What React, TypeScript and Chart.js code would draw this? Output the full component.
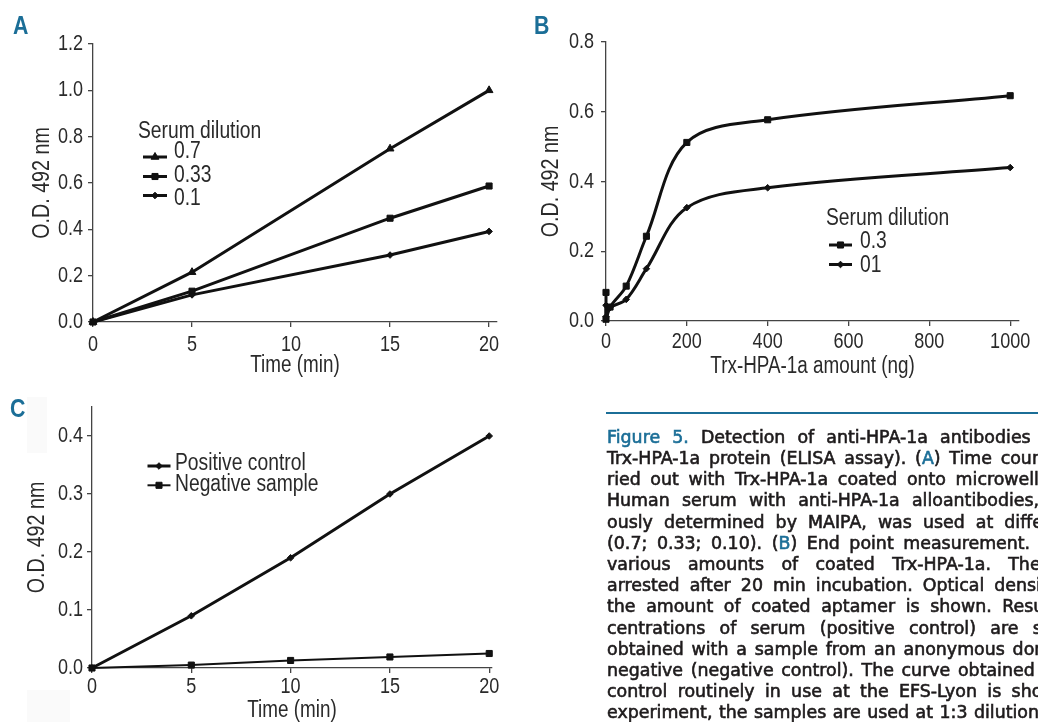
import React, { useEffect, useRef } from 'react';
import { Chart, registerables } from 'chart.js';
import { drawPoint } from 'chart.js/helpers';

Chart.register(...registerables);

const FONT = "'Liberation Sans', Arial, sans-serif";
const NARROW = 0.82;
const TEXT = '#2a2a2a';
const AXIS = '#444444';
const LINE = '#111111';
const BLUE = '#1b6e97';

// ---------- Panel A ----------
const aTime = [0, 5, 15, 20];
const aDil07 = [0, 0.215, 0.748, 1.0];
const aDil033 = [0, 0.133, 0.448, 0.587];
const aDil01 = [0, 0.117, 0.289, 0.391];
const aXTicks = [0, 5, 10, 15, 20];
const aYTicks = [0, 0.2, 0.4, 0.6, 0.8, 1.0, 1.2];

// ---------- Panel B ----------
const bAmount03 = [0, 0, 10, 50, 100, 200, 400, 1000];
const bDil03 = [0.082, 0.005, 0.04, 0.1, 0.243, 0.512, 0.577, 0.646];
const bAmount01 = [0, 0, 10, 50, 100, 200, 400, 1000];
const bDil01 = [0.045, 0.012, 0.038, 0.062, 0.15, 0.325, 0.382, 0.44];
const bXTicks = [0, 200, 400, 600, 800, 1000];
const bYTicks = [0, 0.2, 0.4, 0.6, 0.8];

// ---------- Panel C ----------
const cTime = [0, 5, 10, 15, 20];
const cPositive = [0, 0.09, 0.19, 0.3, 0.4];
const cNegative = [0, 0.005, 0.013, 0.019, 0.025];
const cXTicks = [0, 5, 10, 15, 20];
const cYTicks = [0, 0.1, 0.2, 0.3, 0.4];

// ---------- Caption ----------
const captionLines = [
  '[Figure] [5.] Detection of anti-HPA-1a antibodies',
  'Trx-HPA-1a protein (ELISA assay). ([A]) Time course',
  'ried out with Trx-HPA-1a coated onto microwell',
  'Human serum with anti-HPA-1a alloantibodies,',
  'ously determined by MAIPA, was used at different',
  '(0.7; 0.33; 0.10). ([B]) End point measurement.',
  'various amounts of coated Trx-HPA-1a. The',
  'arrested after 20 min incubation. Optical density',
  'the amount of coated aptamer is shown. Results',
  'centrations of serum (positive control) are shown',
  'obtained with a sample from an anonymous donor',
  'negative (negative control). The curve obtained',
  'control routinely in use at the EFS-Lyon is shown',
  'experiment, the samples are used at 1:3 dilution',
];
const captionLastWordX = [940, 1000.7, 955.7, 912, 1004.3, 903.3, 1008.3, 994.3, 1002.3, 1032.7, 1012.7, 958, 1011.7, 974];

type Row = { lineY: number; textY: number };
type LegendCfg = { title?: string; titleX: number; titleY: number; x0: number; x1: number; textX: number; rows: Row[]; fontSize: number };

function makeLegendPlugin(cfg: LegendCfg) {
  return {
    id: 'panelLegend',
    afterDatasetsDraw(chart: any) {
      const ctx = chart.ctx as CanvasRenderingContext2D;
      ctx.save();
      ctx.font = `${cfg.fontSize}px ${FONT}`;
      ctx.textBaseline = 'middle';
      ctx.textAlign = 'left';
      if (cfg.title) {
        ctx.fillStyle = TEXT;
        ctx.fillText(cfg.title, cfg.titleX, cfg.titleY);
      }
      cfg.rows.forEach((row, i) => {
        const ds = chart.data.datasets[i];
        ctx.strokeStyle = ds.borderColor;
        ctx.lineWidth = ds.borderWidth;
        ctx.beginPath();
        ctx.moveTo(cfg.x0, row.lineY);
        ctx.lineTo(cfg.x1, row.lineY);
        ctx.stroke();
        ctx.fillStyle = ds.pointBackgroundColor;
        ctx.strokeStyle = ds.pointBorderColor;
        ctx.lineWidth = 1;
        drawPoint(ctx, { pointStyle: ds.pointStyle, radius: ds.pointRadius, rotation: 0, borderWidth: 1 } as any, (cfg.x0 + cfg.x1) / 2, row.lineY);
        ctx.fillStyle = TEXT;
        ctx.fillText(ds.label, cfg.textX, row.textY);
      });
      ctx.restore();
    },
  };
}

// Render canvas text horizontally condensed (narrow sans look).
function condenseText(canvas: HTMLCanvasElement) {
  const ctx = canvas.getContext('2d') as any;
  if (ctx.__condensed) return;
  const orig = ctx.fillText.bind(ctx);
  ctx.fillText = (t: string, x: number, y: number, mw?: number) => {
    ctx.save();
    ctx.translate(x, y);
    ctx.scale(NARROW, 1);
    if (mw !== undefined) orig(t, 0, 0, mw / NARROW);
    else orig(t, 0, 0);
    ctx.restore();
  };
  ctx.__condensed = true;
}

function series(label: string, xs: number[], ys: number[], style: string, radius: number, width: number, tension = 0) {
  return {
    label,
    data: xs.map((x, i) => ({ x, y: ys[i] })),
    borderColor: LINE,
    backgroundColor: LINE,
    pointBackgroundColor: LINE,
    pointBorderColor: LINE,
    pointBorderWidth: 1,
    pointStyle: style,
    pointRadius: radius,
    borderWidth: width,
    tension,
    clip: 10,
  };
}

function xAxis(min: number, max: number, ticks: number[], height: number, pad: number, title: string, titlePadBottom: number) {
  return {
    type: 'linear',
    min,
    max,
    afterBuildTicks: (s: any) => { s.ticks = ticks.map((v) => ({ value: v })); },
    afterFit: (s: any) => { s.height = height; },
    grid: { display: true, drawOnChartArea: false, drawTicks: true, tickLength: 5, color: AXIS, lineWidth: 1.3 },
    border: { display: true, color: AXIS, width: 1.3 },
    ticks: { font: { family: FONT, size: 22 }, color: TEXT, padding: pad, maxRotation: 0, autoSkip: false, callback: (v: any) => String(v) },
    title: { display: true, text: title, font: { family: FONT, size: 23 }, color: TEXT, padding: { top: 0, bottom: titlePadBottom } },
  };
}

function yAxis(min: number, max: number, ticks: number[], width: number, pad: number) {
  return {
    type: 'linear',
    min,
    max,
    afterBuildTicks: (s: any) => { s.ticks = ticks.map((v) => ({ value: v })); },
    afterFit: (s: any) => { s.width = width; },
    grid: { display: true, drawOnChartArea: false, drawTicks: true, tickLength: 5, color: AXIS, lineWidth: 1.3 },
    border: { display: true, color: AXIS, width: 1.3 },
    ticks: { font: { family: FONT, size: 22 }, color: TEXT, padding: pad, autoSkip: false, callback: (v: any) => Number(v).toFixed(1) },
    title: { display: true, text: 'O.D. 492 nm', font: { family: FONT, size: 24 }, color: TEXT, padding: 0 },
  };
}

function baseOptions(padding: any, x: any, y: any) {
  return {
    responsive: false,
    animation: false,
    events: [],
    layout: { padding },
    plugins: { legend: { display: false }, tooltip: { enabled: false } },
    scales: { x, y },
  };
}

function buildA(canvas: HTMLCanvasElement) {
  condenseText(canvas);
  return new Chart(canvas, {
    type: 'line',
    data: {
      datasets: [
        series('0.7', aTime, aDil07, 'triangle', 4.5, 3),
        series('0.33', aTime, aDil033, 'rect', 4.3, 3),
        series('0.1', aTime, aDil01, 'rectRot', 3.3, 3),
      ] as any,
    },
    options: baseOptions(
      { left: 28, top: 44, right: 541, bottom: 722 - 322 - 57 },
      xAxis(0, 20.4, aXTicks, 57, 5, 'Time (min)', 0),
      yAxis(0, 1.2, aYTicks, 65, 5),
    ) as any,
    plugins: [makeLegendPlugin({
      title: 'Serum dilution', titleX: 138, titleY: 132, x0: 143, x1: 167, textX: 174, fontSize: 23.5,
      rows: [{ lineY: 157, textY: 152 }, { lineY: 176.5, textY: 176 }, { lineY: 195.5, textY: 199 }],
    })],
  } as any);
}

function buildB(canvas: HTMLCanvasElement) {
  condenseText(canvas);
  return new Chart(canvas, {
    type: 'line',
    data: {
      datasets: [
        series('0.3', bAmount03, bDil03, 'rect', 4.3, 3, 0.35),
        series('01', bAmount01, bDil01, 'rectRot', 3.3, 3, 0.35),
      ] as any,
    },
    options: baseOptions(
      { left: 537, top: 42, right: 16, bottom: 722 - 321 - 59 },
      xAxis(0, 1022, bXTicks, 59, 3, 'Trx-HPA-1a amount (ng)', 0),
      yAxis(0, 0.8, bYTicks, 69, 7),
    ) as any,
    plugins: [makeLegendPlugin({
      title: 'Serum dilution', titleX: 826, titleY: 219, x0: 829, x1: 852, textX: 860, fontSize: 23.5,
      rows: [{ lineY: 245, textY: 242 }, { lineY: 264.5, textY: 265.5 }],
    })],
  } as any);
}

function buildC(canvas: HTMLCanvasElement) {
  condenseText(canvas);
  return new Chart(canvas, {
    type: 'line',
    data: {
      datasets: [
        series('Positive control', cTime, cPositive, 'rectRot', 3.3, 3),
        series('Negative sample', cTime, cNegative, 'rect', 4.3, 2),
      ] as any,
    },
    options: baseOptions(
      { left: 23, top: 407, right: 546, bottom: 0 },
      xAxis(0, 20.14, cXTicks, 722 - 668, 1, 'Time (min)', -2),
      yAxis(0, 0.45, cYTicks, 69, 4),
    ) as any,
    plugins: [makeLegendPlugin({
      titleX: 0, titleY: 0, x0: 147.5, x1: 170.5, textX: 175, fontSize: 23.5,
      rows: [{ lineY: 466, textY: 463.5 }, { lineY: 485.3, textY: 485 }],
    })],
  } as any);
}

function ChartCanvas({ build }: { build: (c: HTMLCanvasElement) => Chart }) {
  const ref = useRef<HTMLCanvasElement>(null);
  useEffect(() => {
    const ch = build(ref.current as HTMLCanvasElement);
    return () => ch.destroy();
  }, [build]);
  return <canvas ref={ref} width={1038} height={722} style={{ position: 'absolute', left: 0, top: 0, width: 1038, height: 722 }} />;
}

function Word({ w }: { w: string }) {
  const parts = w.split(/(\[[^\]]+\])/).filter((p) => p.length > 0);
  return (
    <>
      {parts.map((p, i) =>
        p.startsWith('[') ? <span key={i} style={{ color: BLUE }}>{p.slice(1, -1)}</span> : <span key={i}>{p}</span>
      )}
    </>
  );
}

function Caption() {
  const left = 607;
  return (
    <div style={{ position: 'absolute', left: 0, top: 0, width: 1038, height: 722, overflow: 'hidden', pointerEvents: 'none' }}>
      <div style={{ position: 'absolute', left: 606, top: 412, width: 440, height: 2.2, background: BLUE }} />
      {captionLines.map((line, li) => {
        const words = line.split(' ');
        const last = words[words.length - 1];
        const rest = words.slice(0, -1);
        return (
          <div
            key={li}
            style={{
              position: 'absolute',
              left,
              top: 426.8 + li * 21.2,
              width: captionLastWordX[li] - left,
              height: 21.2,
              display: 'flex',
              justifyContent: 'space-between',
              fontFamily: "'DejaVu Sans', sans-serif",
              fontSize: 17.4,
              lineHeight: '21.2px',
              color: '#1e1b1c',
              WebkitTextStroke: '0.6px currentColor',
              whiteSpace: 'nowrap',
            }}
          >
            {rest.map((w, i) => (
              <span key={i} style={{ flex: 'none' }}><Word w={w} /></span>
            ))}
            <span style={{ flex: 'none', width: 0, overflow: 'visible' }}><Word w={last} /></span>
          </div>
        );
      })}
    </div>
  );
}

const letterStyle: React.CSSProperties = {
  position: 'absolute',
  fontFamily: FONT,
  fontWeight: 'bold',
  fontSize: 26,
  lineHeight: '26px',
  color: BLUE,
  transform: `scaleX(${NARROW})`,
  transformOrigin: 'left top',
};

export default function App() {
  return (
    <div style={{ position: 'fixed', left: 0, top: 0, width: 1038, height: 722, background: '#ffffff', overflow: 'hidden' }}>
      <div style={{ position: 'absolute', left: 27, top: 397, width: 20, height: 56, background: '#fafafa' }} />
      <div style={{ position: 'absolute', left: 27, top: 690, width: 43, height: 32, background: '#fafafa' }} />
      <ChartCanvas build={buildA} />
      <ChartCanvas build={buildB} />
      <ChartCanvas build={buildC} />
      <div style={{ ...letterStyle, left: 12.5, top: 11.6 }}>A</div>
      <div style={{ ...letterStyle, left: 534, top: 11.6 }}>B</div>
      <div style={{ ...letterStyle, left: 9.5, top: 394.6 }}>C</div>
      <Caption />
    </div>
  );
}
